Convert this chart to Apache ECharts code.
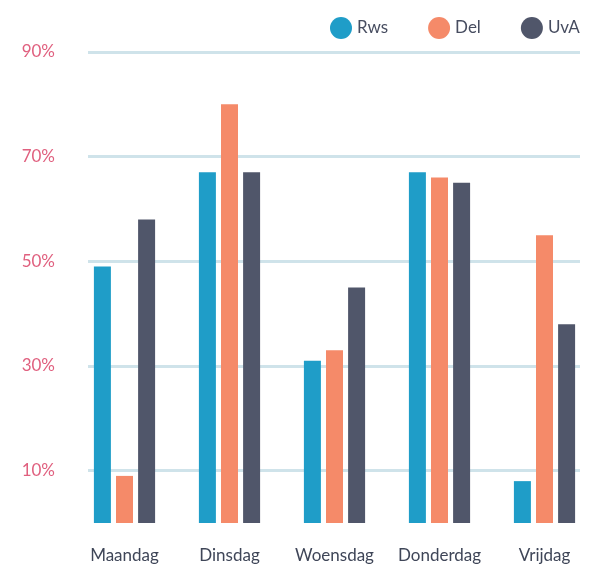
<!DOCTYPE html>
<html>
<head>
<meta charset="utf-8">
<script src="https://cdn.jsdelivr.net/npm/echarts@6/dist/echarts.min.js"></script>
<style>
html, body { margin: 0; padding: 0; background: #fff; overflow: hidden; }
#chart { width: 597px; height: 569px; }
</style>
</head>
<body>
<div id="chart"></div>
<script>
var days = ['Maandag', 'Dinsdag', 'Woensdag', 'Donderdag', 'Vrijdag'];
var rws = [49, 67, 31, 67, 8];
var del = [9, 80, 33, 66, 55];
var uva = [58, 67, 45, 65, 38];
var yMin = 0, yMax = 90, yStep = 10;

chart();
function chart() {
    var myChart = echarts.init(document.getElementById('chart'));
    var font = 'Lato';
    var option = {
        animation: false,
        legend: {
            left: 325,
            top: 12,
            width: 300,
            icon: 'circle',
            itemWidth: 22,
            itemHeight: 22,
            itemGap: 40,
            textStyle: {
                fontFamily: font,
                fontSize: 17,
                color: '#474d60'
            },
            data: ['Rws', 'Del', 'UvA']
        },
        grid: [
            // grid with the split lines and percent labels
            { left: 88, right: 17, top: 52, bottom: 46 },
            // grid holding the bars
            { left: 72, right: 0, top: 52, bottom: 46 }
        ],
        xAxis: [
            { gridIndex: 0, type: 'category', data: days, show: false },
            {
                gridIndex: 1,
                type: 'category',
                data: days,
                axisLine: { show: false },
                axisTick: { show: false },
                axisLabel: {
                    interval: 0,
                    margin: 24,
                    fontFamily: font,
                    fontSize: 17,
                    color: '#3f4658'
                }
            }
        ],
        yAxis: [
            {
                gridIndex: 0,
                type: 'value',
                min: yMin,
                max: yMax,
                interval: yStep,
                axisLine: { show: false },
                axisTick: { show: false },
                axisLabel: {
                    margin: 33,
                    fontFamily: font,
                    fontSize: 17,
                    color: '#e0607f',
                    formatter: function (v) {
                        return (v / yStep) % 2 === 1 ? v + '%' : '';
                    }
                },
                splitLine: {
                    show: true,
                    lineStyle: {
                        width: 3,
                        color: ['rgba(0,0,0,0)', '#cfe3ea']
                    }
                }
            },
            { gridIndex: 1, type: 'value', min: yMin, max: yMax, interval: yStep, show: false }
        ],
        series: [
            {
                name: 'Rws', type: 'bar', xAxisIndex: 1, yAxisIndex: 1,
                barWidth: 17, barGap: '30%',
                itemStyle: { color: '#1f9dc8' },
                data: rws
            },
            {
                name: 'Del', type: 'bar', xAxisIndex: 1, yAxisIndex: 1,
                barWidth: 17, barGap: '30%',
                itemStyle: { color: '#f58a69' },
                data: del
            },
            {
                name: 'UvA', type: 'bar', xAxisIndex: 1, yAxisIndex: 1,
                barWidth: 17, barGap: '30%',
                itemStyle: { color: '#50566a' },
                data: uva
            }
        ]
    };
    myChart.setOption(option);
}
</script>
</body>
</html>
